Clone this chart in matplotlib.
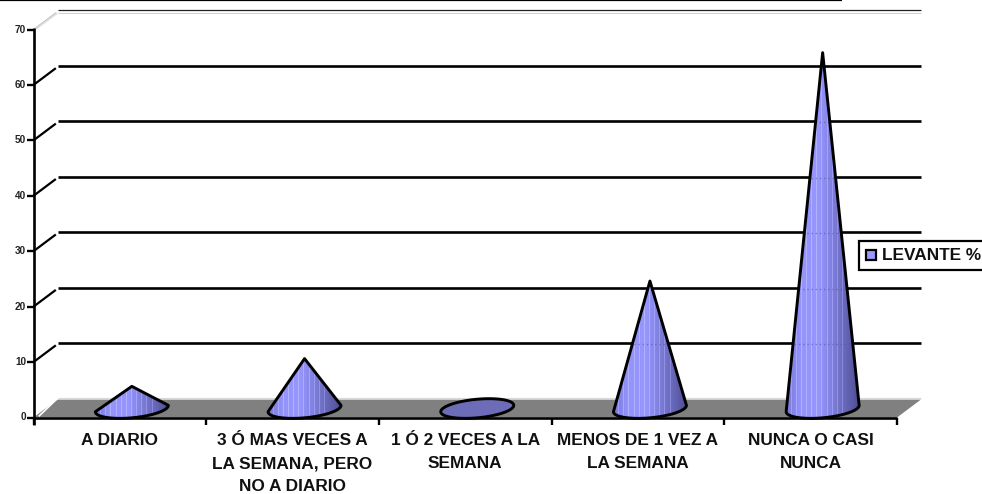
import numpy as np
import matplotlib
matplotlib.use("Agg")
import matplotlib.pyplot as plt
from matplotlib.patches import Polygon, Rectangle

plt.rcParams['font.family'] = ['Liberation Sans', 'DejaVu Sans']
plt.rcParams['font.weight'] = 'bold'

categories = ["A DIARIO", "3 Ó MAS VECES A\nLA SEMANA, PERO\nNO A DIARIO", "1 Ó 2 VECES A LA\nSEMANA",
              "MENOS DE 1 VEZ A\nLA SEMANA", "NUNCA O CASI\nNUNCA"]
values = [4, 9, 0.3, 23, 64.2]
y_ticks = [0, 10, 20, 30, 40, 50, 60, 70]
series_name = "LEVANTE %"

W, H = 982, 494
fig = plt.figure(figsize=(W / 100, H / 100), dpi=100)
# eje frontal: x 33.5-897 px, y 417.5-29.5 px
ax = fig.add_axes([33.5 / W, 1 - 417.5 / H, (897 - 33.5) / W, (417.5 - 29.5) / H])
ax.set_xlim(0, 5)
ax.set_ylim(0, 70)
ax.axis('off')

# profundidad del falso 3D, en unidades de datos
dx = 24 / (897 - 33.5) * 5
dy = 18 / (417.5 - 29.5) * 70


def line(xs, ys, **kw):
    ax.plot(xs, ys, clip_on=False, solid_capstyle='butt', **kw)


# suelo gris
ax.add_patch(Polygon([(0, 0), (dx, dy), (5 + dx, dy), (5, 0)], closed=True,
                     facecolor='#808080', edgecolor='none', clip_on=False, zorder=1))
line([0.03, dx, 5 + dx], [0.2, dy + 0.2, dy + 0.2], color='white', lw=1.2, zorder=1.5)
line([dx, 5 + dx], [dy + 0.3, dy + 0.3], color='#d8d8d8', lw=0.8, zorder=1.5)

# rejilla con su diagonal
for v in y_ticks[1:-1]:
    line([dx, 5 + dx], [v + dy + 0.2, v + dy + 0.2], color='black', lw=1.9, zorder=2)
    line([0, dx * 0.93], [v, v + dy * 0.93], color='black', lw=1.6, zorder=2)
# línea superior fina
line([dx, 5 + dx], [70 + dy + 0.2, 70 + dy + 0.2], color='#222222', lw=0.9, zorder=2)
line([dx, 5 + dx], [70 + dy - 0.3, 70 + dy - 0.3], color='#d0d0d0', lw=0.8, zorder=2)
line([0, dx * 0.95], [70, 70 + dy * 0.95], color='#c0c0c0', lw=0.8, zorder=2)
line([0.012, dx], [70, 70 + dy * 0.9], color='#d8d8d8', lw=0.8, zorder=2)

# ejes
line([0, 0], [-1.3, 70.2], color='black', lw=1.9, zorder=3)
line([0, 5], [0, 0], color='black', lw=1.9, zorder=3)
for i in range(6):
    line([i, i], [0, -1.3], color='black', lw=1.7, zorder=3)
for v in y_ticks:
    line([-0.035, 0], [v, v], color='black', lw=1.7, zorder=3)
    ax.text(-0.043, v, str(v), ha='right', va='center', fontsize=7.2, color='#222222', zorder=3)

# etiquetas de categoría
for i, c in enumerate(categories):
    ax.text(i + 0.5, -2.8, c, ha='center', va='top', fontsize=12.4, linespacing=1.67, color='#111111')


def cone_colors(n=72):
    # rampa horizontal con rayas claras, como el relleno degradado del original
    pos = np.linspace(0, 1, n)
    stops = [0, 0.2, 0.45, 0.7, 1]
    red = np.interp(pos, stops, [120, 148, 150, 118, 78])
    green = red.copy()
    blue = np.interp(pos, stops, [215, 250, 255, 205, 150])
    rgb = np.stack([red, green, blue], axis=-1)
    light = (np.arange(n) % 5 == 0) & (pos < 0.8)
    rgb[light] = np.minimum(rgb[light] + 28, 255)
    return (rgb / 255)[None, :, :]


half_w = 36.5 / 172.7
half_h = 9.3 / 5.543
tilt = 3.2 / 5.543
base_y = 1.62
stripes = cone_colors()
for i, v in enumerate(values):
    cx = i + 0.5 + dx / 2
    if v < 1:
        t = np.linspace(0, 2 * np.pi, 121)
        pts = np.column_stack([cx + half_w * np.cos(t),
                               base_y + half_h * np.sin(t) + tilt * np.cos(t)])
        ax.add_patch(Polygon(pts, closed=True, facecolor='#6c6cb8', edgecolor='none', clip_on=False, zorder=4))
    else:
        lower = np.linspace(0, -np.pi, 61)
        bx = cx + half_w * np.cos(lower)
        by = base_y + half_h * np.sin(lower) + tilt * np.cos(lower)
        pts = np.vstack([[cx, base_y + v], np.column_stack([bx, by])])
        clip = Polygon(pts, closed=True, transform=ax.transData)
        im = ax.imshow(stripes, aspect='auto', zorder=4, interpolation='nearest',
                       extent=[cx - half_w, cx + half_w, -1, base_y + v])
        im.set_clip_path(clip)
        # rejilla apenas visible a través del cono
        for g in y_ticks[1:-1]:
            gl, = ax.plot([cx - half_w, cx + half_w], [g + dy, g + dy], color='#55559a',
                          lw=1.0, ls=(0, (1, 2)), alpha=0.6, zorder=4.5)
            gl.set_clip_path(clip)
    ax.add_patch(Polygon(pts, closed=True, facecolor='none', edgecolor='black', lw=2.1, joinstyle='round',
                         clip_on=False, zorder=5))
ax.set_xlim(0, 5)
ax.set_ylim(0, 70)

# leyenda
legend_ax = fig.add_axes([0, 0, 1, 1], facecolor='none')
legend_ax.set_xlim(0, W)
legend_ax.set_ylim(H, 0)
legend_ax.axis('off')
legend_ax.add_patch(Rectangle((859, 240.5), 140, 29, facecolor='white', edgecolor='black', lw=1.6, clip_on=True))
legend_ax.add_patch(Rectangle((866, 249.5), 10.5, 10.5, facecolor='#9999ff', edgecolor='black', lw=1.6))
legend_ax.text(882.5, 255, series_name, ha='left', va='center', fontsize=12.4, color='#111111')

# línea de arriba
legend_ax.plot([0, 842], [0.5, 0.5], color='black', lw=1.6, solid_capstyle='butt')

fig.savefig("out.png", dpi=100)
